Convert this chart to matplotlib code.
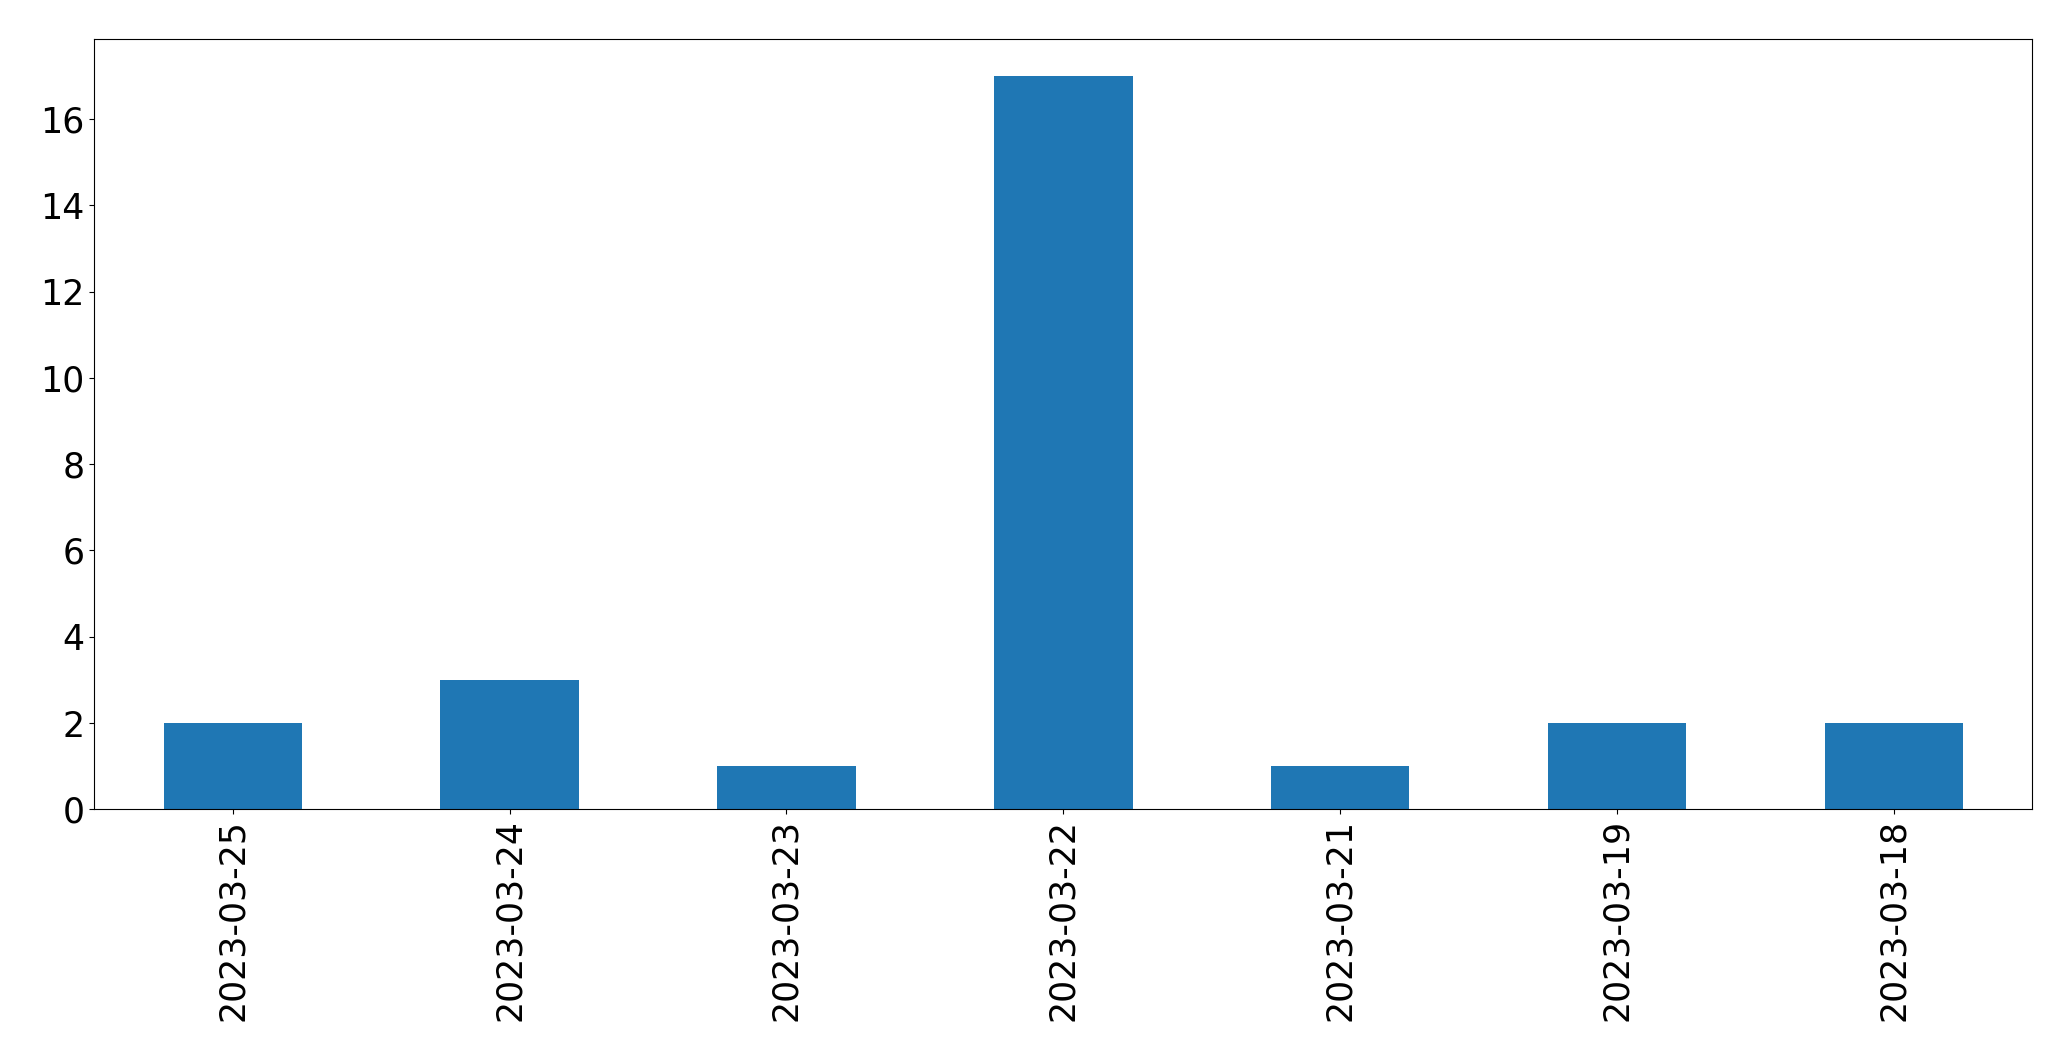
import matplotlib
matplotlib.use("Agg")
import matplotlib.pyplot as plt
import numpy as np

tarihler = ["2023-03-25", "2023-03-24", "2023-03-23", "2023-03-22",
            "2023-03-21", "2023-03-19", "2023-03-18"]
sayilar = [2, 3, 1, 17, 1, 2, 2]

fig = plt.figure(figsize=(20.71, 10.61), dpi=100)
ax = fig.add_axes([94.3 / 2071, 1 - 809.3 / 1061, 1938 / 2071, 770 / 1061])

x = np.arange(len(tarihler))
ax.bar(x, sayilar, width=0.5, color="#1f77b4")
ax.set_xlim(-0.5, len(tarihler) - 0.5)
ax.set_ylim(0, max(sayilar) * 1.05)
ax.set_xticks(x)
ax.set_xticklabels(tarihler, rotation=90)
ax.tick_params(labelsize=25)

fig.savefig("out.png", dpi=100)
